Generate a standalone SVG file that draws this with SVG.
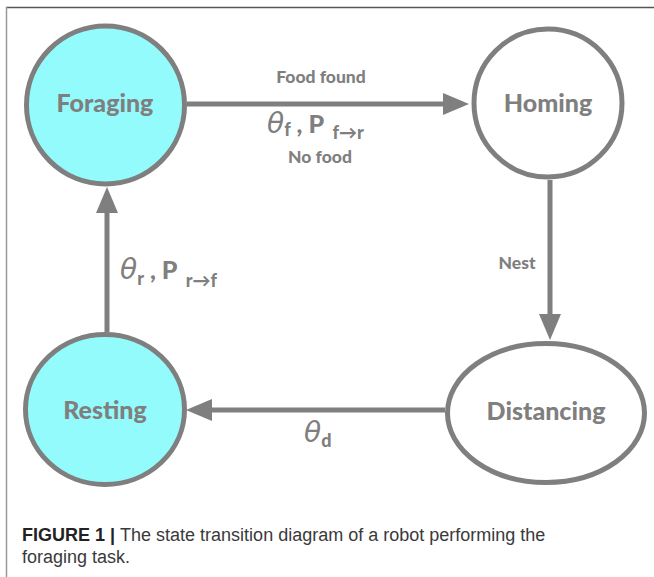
<svg xmlns="http://www.w3.org/2000/svg" width="654" height="577" viewBox="0 0 654 577">
  <style>
    .state { stroke: #7f7f7f; stroke-width: 5; }
    .active { fill: #94fbfc; }
    .idle { fill: #ffffff; }
    .name { font-family: Lato, "Open Sans", sans-serif; font-weight: 900; font-size: 25px; fill: #7f7f7f; text-anchor: middle; }
    .event { font-family: Lato, "Open Sans", sans-serif; font-weight: 900; font-size: 17.5px; fill: #7f7f7f; text-anchor: middle; }
    .edge { stroke: #7f7f7f; stroke-width: 5; fill: none; marker-end: url(#head); }
    .sym { font-family: Lato, "Open Sans", sans-serif; fill: #7f7f7f; }
    .theta { font-family: "DejaVu Sans", sans-serif; font-style: italic; font-size: 28px; }
    .big { font-weight: 900; font-size: 25px; }
    .sub { font-weight: 900; font-size: 18px; }
    .cap { font-family: "Liberation Sans", Arial, sans-serif; font-size: 18px; fill: #3a3a3a; }
  </style>
  <defs>
    <marker id="head" viewBox="0 0 26 22" refX="1" refY="11" markerWidth="26" markerHeight="22" markerUnits="userSpaceOnUse" orient="auto">
      <path d="M0,0 L26,11 L0,22 Z" fill="#7f7f7f"/>
    </marker>
  </defs>

  <!-- frame -->
  <rect x="0" y="0" width="654" height="577" fill="#ffffff"/>
  <line x1="6" y1="7.5" x2="654" y2="7.5" stroke="#555555" stroke-width="1.5"/>
  <line x1="6.5" y1="7" x2="6.5" y2="577" stroke="#999999" stroke-width="1.5"/>

  <!-- transitions -->
  <g id="connectors">
    <line class="edge" x1="187" y1="104" x2="444" y2="104"/>
    <line class="edge" x1="550" y1="180" x2="550" y2="315"/>
    <line class="edge" x1="445" y1="410" x2="211" y2="410"/>
    <line class="edge" x1="107" y1="332" x2="107" y2="212"/>

    <text class="event" x="321" y="83">Food found</text>
    <text class="event" x="320" y="163">No food</text>
    <text class="event" x="517" y="269">Nest</text>

    <text class="sym" x="267" y="133"><tspan class="theta">θ</tspan><tspan class="sub" dy="3">f</tspan><tspan class="big" dy="-3"> , P </tspan><tspan class="sub" dx="3" dy="6">f→r</tspan></text>
    <text class="sym" x="120" y="279"><tspan class="theta">θ</tspan><tspan class="sub" dy="6">r</tspan><tspan class="big" dy="-6"> , P </tspan><tspan class="sub" dx="3" dy="8">r→f</tspan></text>
    <text class="sym" x="304" y="442"><tspan class="theta">θ</tspan><tspan class="sub" dy="5">d</tspan></text>
  </g>

  <!-- states -->
  <g id="foraging">
    <ellipse class="state active" cx="105.5" cy="105" rx="79" ry="79"/>
    <text class="name" x="105" y="112">Foraging</text>
  </g>
  <g id="homing">
    <ellipse class="state idle" cx="548" cy="103" rx="74" ry="74"/>
    <text class="name" x="548" y="112">Homing</text>
  </g>
  <g id="resting">
    <ellipse class="state active" cx="105" cy="409.5" rx="79.5" ry="75"/>
    <text class="name" x="105" y="419">Resting</text>
  </g>
  <g id="distancing">
    <ellipse class="state idle" cx="546" cy="413" rx="98.5" ry="69.5"/>
    <text class="name" x="546" y="420">Distancing</text>
  </g>

  <!-- caption -->
  <text class="cap" x="22" y="541"><tspan font-weight="bold" fill="#222222">FIGURE 1 | </tspan>The state transition diagram of a robot performing the</text>
  <text class="cap" x="22" y="563">foraging task.</text>
</svg>
